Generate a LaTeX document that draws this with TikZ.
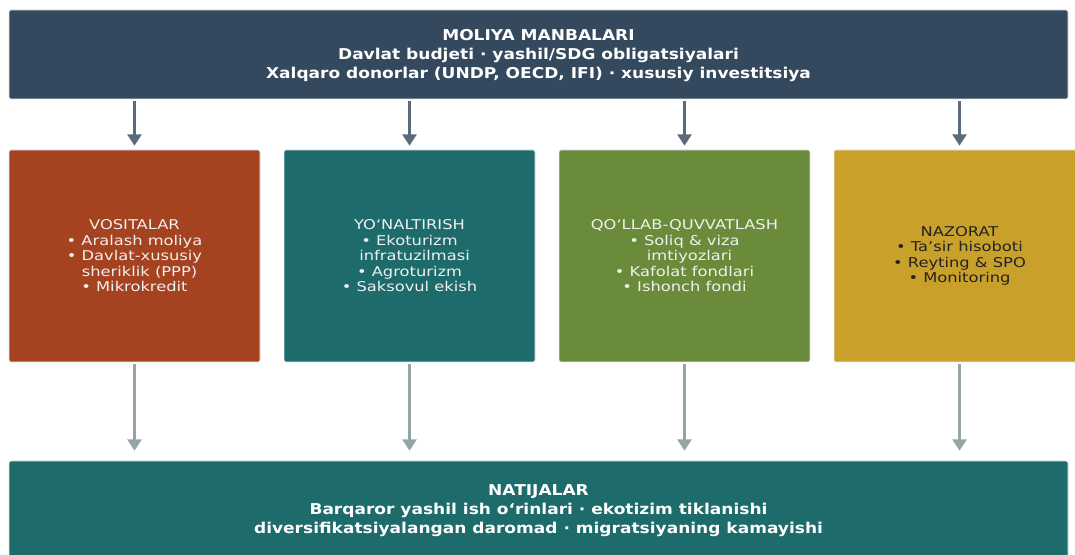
\documentclass[tikz,border=0pt]{standalone}
\usepackage{fontspec}
\setmainfont{DejaVu Sans}
\newfontfamily\topfont[FakeStretch=1.14]{DejaVu Sans}
\newfontfamily\midfont[FakeStretch=1.21]{DejaVu Sans}
\usetikzlibrary{arrows.meta}
\definecolor{cTop}{HTML}{34495E}
\definecolor{cRust}{HTML}{A5421F}
\definecolor{cTeal}{HTML}{1D6B6B}
\definecolor{cGreen}{HTML}{6A8C3A}
\definecolor{cGold}{HTML}{C9A12A}
\definecolor{cArrA}{HTML}{5B6B7C}
\definecolor{cArrB}{HTML}{95A5A6}
\definecolor{cEdge}{HTML}{E6ECEC}
\definecolor{cDark}{HTML}{222222}
\tikzset{
  box/.style={draw=cEdge, line width=0.5pt, rounded corners=1.5pt, align=center, inner sep=0pt},
  bigbox/.style={box, minimum width=794.25pt, minimum height=66.75pt, text=white, font=\topfont\bfseries\fontsize{11.2}{14.2}\selectfont},
  midbox/.style={box, minimum width=188.25pt, minimum height=159pt, font=\midfont\fontsize{10.1}{11.6}\selectfont},
  arrA/.style={draw=cArrA, line width=2.25pt, -{Triangle[length=8.5pt,width=10.5pt]}, shorten <=1.5pt, shorten >=3pt},
  arrB/.style={draw=cArrB, line width=2.25pt, -{Triangle[length=8.5pt,width=10.5pt]}, shorten <=1.5pt, shorten >=7.5pt},
}
\begin{document}
\begin{tikzpicture}[x=0.75pt, y=-0.75pt]
\useasboundingbox (0,0) rectangle (1075,555);
\node[bigbox, fill=cTop] (top) at (538.5,54.5) {\rule{0pt}{10.5pt}MOLIYA MANBALARI\\Davlat budjeti · yashil/SDG obligatsiyalari\\Xalqaro donorlar (UNDP, OECD, IFI) · xususiy investitsiya};
\node[midbox, fill=cRust, text=white!94!black] (m1) at (134.5,256) {VOSITALAR\\• Aralash moliya\\• Davlat-xususiy\\\hspace*{0.75em}sheriklik (PPP)\\• Mikrokredit};
\node[midbox, fill=cTeal, text=white!94!black] (m2) at (409.5,256) {YOʻNALTIRISH\\• Ekoturizm\\\hspace*{0.75em}infratuzilmasi\\• Agroturizm\\• Saksovul ekish};
\node[midbox, fill=cGreen, text=white!94!black] (m3) at (684.5,256) {QOʻLLAB-QUVVATLASH\\• Soliq \& viza\\\hspace*{0.75em}imtiyozlari\\• Kafolat fondlari\\• Ishonch fondi};
\node[midbox, fill=cGold, text=cDark] (m4) at (959.5,256) {NAZORAT\\• Taʼsir hisoboti\\• Reyting \& SPO\\• Monitoring};
\node[bigbox, fill=cTeal, minimum height=74.25pt] (bot) at (538.5,510.5) {NATIJALAR\\Barqaror yashil ish oʻrinlari · ekotizim tiklanishi\\diversifikatsiyalangan daromad · migratsiyaning kamayishi};
\foreach \m in {m1,m2,m3,m4}{
  \draw[arrA] (\m.north |- top.south) -- (\m.north);
  \draw[arrB] (\m.south) -- (\m.south |- bot.north);
}
\end{tikzpicture}
\end{document}
